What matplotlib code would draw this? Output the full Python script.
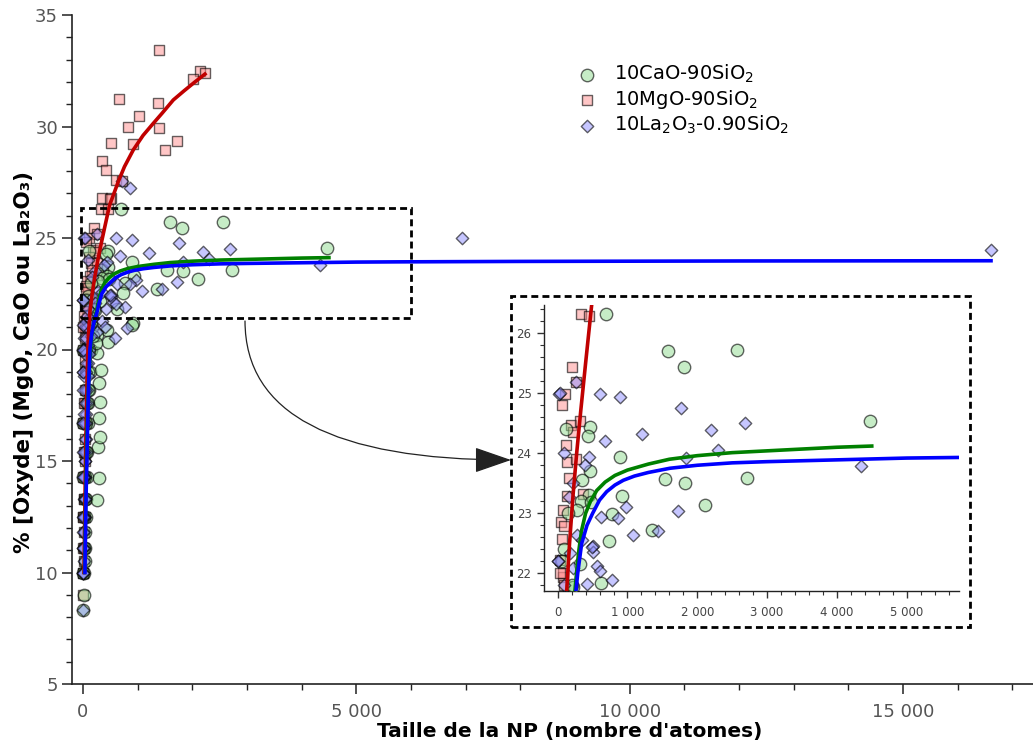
import matplotlib
matplotlib.use("Agg")
import matplotlib.pyplot as plt
from matplotlib.ticker import MultipleLocator, FuncFormatter
from matplotlib.patches import Rectangle

# ---------------- data ----------------
# 10CaO-90SiO2 (circles)
ca_x = [688, 1586, 1810, 2565, 4470, 463, 430, 893, 463, 349, 1543, 1824, 2718, 444, 927,
        330, 478, 2111, 272, 774, 1347, 740, 320, 616, 224, 96, 200, 150,
        921, 433, 463, 250, 890,
        5, 15, 20, 30, 40, 45, 55, 60, 70, 80, 90, 100, 110, 130, 150, 170,
        250, 300, 280, 310, 290, 320, 300, 330, 260, 240, 60, 120,
        10, 20, 25, 35, 45, 55, 65, 75, 85, 95, 110, 0, 0, 0, 150, 180]
ca_y = [26.32, 25.71, 25.44, 25.72, 24.53, 24.43, 24.28, 23.94, 23.71, 23.56, 23.57, 23.51, 23.58, 23.31, 23.28,
        23.21, 23.18, 23.14, 23.06, 22.99, 22.72, 22.54, 22.16, 21.83, 21.77, 22.40, 21.80, 23.00,
        21.17, 20.87, 20.35, 20.65, 21.10,
        8.3, 9.0, 10.0, 10.5, 11.1, 11.8, 12.5, 13.3, 14.3, 15.4, 16.7, 17.6, 18.2, 19.0, 20.0, 21.0,
        13.25, 14.22, 15.64, 16.09, 16.91, 17.66, 18.48, 19.08, 19.84, 20.29, 22.2, 24.4,
        10.0, 11.1, 12.5, 13.3, 14.3, 15.4, 16.7, 17.6, 18.2, 19.0, 20.0, 14.3, 16.7, 20.0, 21.2, 20.6]

# 10MgO-90SiO2 (squares)
mg_x = [1396, 2140, 2232, 2006, 659, 1378, 1024, 829, 1396, 1714, 518, 909, 1500, 342, 421,
        598, 708, 342, 518, 494,
        334, 454, 205, 263, 105, 191, 320, 215, 119, 139, 263, 167, 129, 368, 72, 48, 96, 62, 33,
        72, 96,
        0, 10, 20, 15, 25, 30, 20, 35, 40, 30, 45, 50, 40, 55, 60, 50, 65, 70, 30, 45, 80, 60,
        0, 5, 8, 12, 15, 18, 22, 26, 30, 35, 40, 45, 0, 0, 0, 0, 10, 20, 30]
mg_y = [33.43, 32.50, 32.38, 32.12, 31.23, 31.07, 30.47, 29.99, 29.92, 29.35, 29.27, 29.20, 28.95, 28.47, 28.05,
        27.60, 27.57, 26.78, 26.78, 26.74,
        26.32, 26.29, 25.43, 25.18, 24.98, 24.47, 24.54, 24.35, 24.13, 23.86, 23.90, 23.58, 23.28, 23.32, 23.06,
        22.86, 22.78, 22.57, 22.22, 21.94, 21.81,
        9.0, 10.0, 10.5, 11.1, 11.8, 12.5, 13.3, 14.3, 15.0, 15.4, 16.0, 16.7, 17.6, 18.2, 19.0, 20.0, 20.8,
        21.4, 21.0, 19.5, 22.0, 24.8,
        10.0, 11.1, 12.5, 13.3, 14.3, 15.4, 16.7, 17.6, 18.2, 19.0, 20.0, 20.5, 12.5, 14.3, 16.7, 20.0,
        21.0, 21.5, 22.0]

# 10La2O3-0.90SiO2 (diamonds)
la_x = [6934, 16612, 860, 708,
        20, 30, 607, 893, 1762, 2689, 2197, 1213, 673, 2302, 449, 96, 1834, 392, 4341, 215, 167, 979,
        616, 860, 1729, 1442, 1075, 272, 344, 511, 511, 177, 559, 607, 774, 425, 215, 0, 10, 263,
        799, 585, 350, 250, 180, 400, 494,
        0, 10, 15, 20, 25, 30, 35, 40, 45, 50, 55, 60, 65, 70, 80, 90, 100, 120,
        5, 25, 45, 65, 85, 105, 125, 145, 0, 10, 20,
        5, 8, 12, 18, 22, 26, 30, 35, 40, 45, 50, 55, 60, 12, 20, 28, 33, 38, 15, 10, 42, 48, 70, 75, 85,
        0, 0, 0, 0, 0, 0, 0, 0, 0, 0]
la_y = [25.00, 24.46, 27.23, 27.55,
        24.99, 25.00, 24.99, 24.93, 24.76, 24.51, 24.38, 24.32, 24.21, 24.05, 23.94, 24.00, 23.92, 23.81, 23.78,
        23.50, 23.27, 23.10, 22.94, 22.92, 23.04, 22.71, 22.63, 22.64, 22.56, 22.46, 22.36, 22.34, 22.12, 22.03,
        21.89, 21.82, 22.08, 22.21, 22.21, 25.18,
        20.95, 20.50, 21.30, 20.80, 21.40, 21.00, 22.44,
        8.3, 10.0, 10.5, 11.1, 11.8, 12.5, 13.3, 14.3, 15.0, 15.4, 16.0, 16.7, 17.1, 17.6, 18.2, 18.8, 19.4, 20.0,
        19.0, 20.5, 21.0, 21.3, 20.2, 19.8, 21.1, 20.6, 20.0, 16.7, 14.3,
        10.0, 11.1, 12.5, 13.3, 14.3, 15.4, 16.0, 16.7, 17.6, 18.2, 19.0, 19.4, 20.0, 20.0, 18.8, 17.1, 15.0,
        13.3, 12.5, 11.8, 19.8, 20.5, 21.0, 21.5, 21.8,
        20.0, 19.0, 16.7, 15.4, 14.3, 12.5, 11.1, 10.0, 18.2, 21.1]

# fitted curves
fit_mg_x = [20, 30, 45, 60, 80, 100, 129, 170, 220, 272, 330, 400, 487, 560, 650, 760, 921, 1100,
            1287, 1450, 1653, 1850, 2050, 2232]
fit_mg_y = [10.0, 12.0, 14.6, 16.8, 19.0, 20.6, 21.7, 22.5, 23.3, 24.0, 24.7, 25.5, 26.47, 26.95, 27.55,
            28.2, 28.95, 29.6, 30.14, 30.6, 31.19, 31.6, 32.0, 32.35]
fit_ca_x = [30, 45, 60, 80, 100, 125, 160, 200, 248, 270, 300, 340, 400, 470, 560, 680, 820, 1000,
            1300, 1600, 2000, 2500, 3000, 3500, 4000, 4500]
fit_ca_y = [10.0, 12.5, 14.6, 16.8, 18.3, 19.6, 20.6, 21.2, 21.72, 22.0, 22.35, 22.7, 23.0, 23.2, 23.38,
            23.52, 23.63, 23.72, 23.82, 23.9, 23.96, 24.01, 24.04, 24.07, 24.1, 24.12]
fit_la_x = [37, 50, 62, 75, 90, 105, 128, 160, 200, 263, 287, 344, 420, 501, 600, 702, 820, 941,
            1100, 1300, 1609, 2000, 2500, 3000, 4000, 5000, 5750, 8000, 12000, 16612]
fit_la_y = [10.0, 12.3, 14.0, 15.3, 17.0, 18.4, 20.0, 20.7, 21.2, 21.72, 22.0, 22.5, 22.8, 23.0, 23.22,
            23.36, 23.47, 23.55, 23.62, 23.68, 23.75, 23.8, 23.84, 23.86, 23.89, 23.92, 23.93, 23.95,
            23.97, 23.98]

labels = ['10CaO-90SiO$_2$', '10MgO-90SiO$_2$', '10La$_2$O$_3$-0.90SiO$_2$']

# ---------------- styling ----------------
W, H = 1033, 747
fig = plt.figure(figsize=(W / 100, H / 100), dpi=100)


def fx(px):
    return px / W


def fy(py):
    return 1 - py / H


ca_face = (0.56, 0.86, 0.56, 0.5)
mg_face = (1.0, 0.56, 0.56, 0.5)
la_face = (0.56, 0.56, 1.0, 0.5)
edge = (0, 0, 0, 0.6)
fmt = FuncFormatter(lambda v, p: f"{int(round(v)):,}".replace(",", " "))


def draw(ax, sc, ss, sd, lw):
    hm = ax.scatter(mg_x, mg_y, s=ss, marker='s', facecolor=mg_face, edgecolor=edge, linewidth=1,
                    zorder=2, label=labels[1])
    hc = ax.scatter(ca_x, ca_y, s=sc, marker='o', facecolor=ca_face, edgecolor=edge, linewidth=1,
                    zorder=3, label=labels[0])
    hl = ax.scatter(la_x, la_y, s=sd, marker='D', facecolor=la_face, edgecolor=edge, linewidth=1,
                    zorder=4, label=labels[2])
    ax.plot(fit_mg_x, fit_mg_y, color='#c00000', lw=lw, zorder=6, solid_joinstyle='round')
    ax.plot(fit_ca_x, fit_ca_y, color='#008000', lw=lw, zorder=6, solid_joinstyle='round')
    ax.plot(fit_la_x, fit_la_y, color='#0000ff', lw=lw, zorder=7, solid_joinstyle='round')
    for s in ('top', 'right'):
        ax.spines[s].set_visible(False)
    for s in ('left', 'bottom'):
        ax.spines[s].set_linewidth(1.2)
        ax.spines[s].set_color('#222222')
    return hc, hm, hl


# main axes
ax = fig.add_axes([fx(72), fy(684), fx(1033 - 72), fy(15) - fy(684)])
handles = draw(ax, 80, 50, 40, 2.6)
ax.set_xlim(-200, 17380)
ax.set_ylim(5, 35)
ax.xaxis.set_major_locator(MultipleLocator(5000))
ax.xaxis.set_minor_locator(MultipleLocator(1000))
ax.yaxis.set_major_locator(MultipleLocator(5))
ax.yaxis.set_minor_locator(MultipleLocator(1))
ax.xaxis.set_major_formatter(fmt)
ax.tick_params(which='major', length=7, width=1.1, color='#222222', labelcolor='#555555',
               labelsize=13, direction='out')
ax.tick_params(which='minor', length=4, width=1.0, color='#222222', direction='out')
ax.tick_params(axis='x', which='major', pad=7)
ax.tick_params(axis='y', which='major', pad=3)
ax.set_xlabel("Taille de la NP (nombre d'atomes)", fontsize=14.5, fontweight='bold')
ax.set_ylabel("% [Oxyde] (MgO, CaO ou La₂O₃)", fontsize=15.5, fontweight='bold')
ax.xaxis.set_label_coords((570 - 72) / (1033 - 72), -(722 - 684) / 669)
ax.yaxis.set_label_coords(-(72 - 34) / (1033 - 72), (684 - 362) / 669)

# zoom box on the main axes
ax.add_patch(Rectangle((-30, 21.4), 6030, 4.96, fill=False, edgecolor='black', lw=2,
                       linestyle=(0, (2.5, 1.5)), zorder=8))

leg = ax.legend(handles=list(handles), labels=labels, loc='upper left',
                bbox_to_anchor=(fx(577), fy(63)), bbox_transform=fig.transFigure,
                frameon=False, fontsize=14, handlelength=1.0, handletextpad=0.9, labelspacing=0.15,
                borderaxespad=0, borderpad=0, scatterpoints=1)

# inset
axi = fig.add_axes([fx(544), fy(591), fx(959 - 544), fy(305) - fy(591)])
draw(axi, 80, 50, 40, 2.6)
axi.set_xlim(-196, 5750)
axi.set_ylim(21.705, 26.47)
axi.xaxis.set_major_locator(MultipleLocator(1000))
axi.xaxis.set_minor_locator(MultipleLocator(200))
axi.yaxis.set_major_locator(MultipleLocator(1))
axi.yaxis.set_minor_locator(MultipleLocator(0.2))
axi.xaxis.set_major_formatter(fmt)
axi.tick_params(which='major', length=5, width=1.0, color='#333333', labelcolor='#444444',
                labelsize=8.5, direction='out')
axi.tick_params(which='minor', length=3, width=0.8, color='#333333', direction='out')
axi.tick_params(axis='x', which='major', pad=6)
axi.tick_params(axis='y', which='major', pad=4)
for s in ('left', 'bottom'):
    axi.spines[s].set_linewidth(1.0)

# dashed frame around inset
fig.add_artist(Rectangle((fx(511), fy(627)), fx(970 - 511), fy(296) - fy(627), transform=fig.transFigure,
                         fill=False, edgecolor='black', lw=2, linestyle=(0, (2.5, 1.5)), zorder=10))

# arrow
ax.annotate('', xy=(fx(511), fy(460)), xycoords='figure fraction',
            xytext=(fx(245), fy(321)), textcoords='figure fraction',
            arrowprops=dict(arrowstyle='-|>,head_length=1.3,head_width=0.45',
                            connectionstyle='angle3,angleA=-90,angleB=0',
                            color='#222222', lw=0.9, mutation_scale=18, shrinkA=0, shrinkB=0),
            zorder=9)

fig.savefig('out.png', dpi=100)
